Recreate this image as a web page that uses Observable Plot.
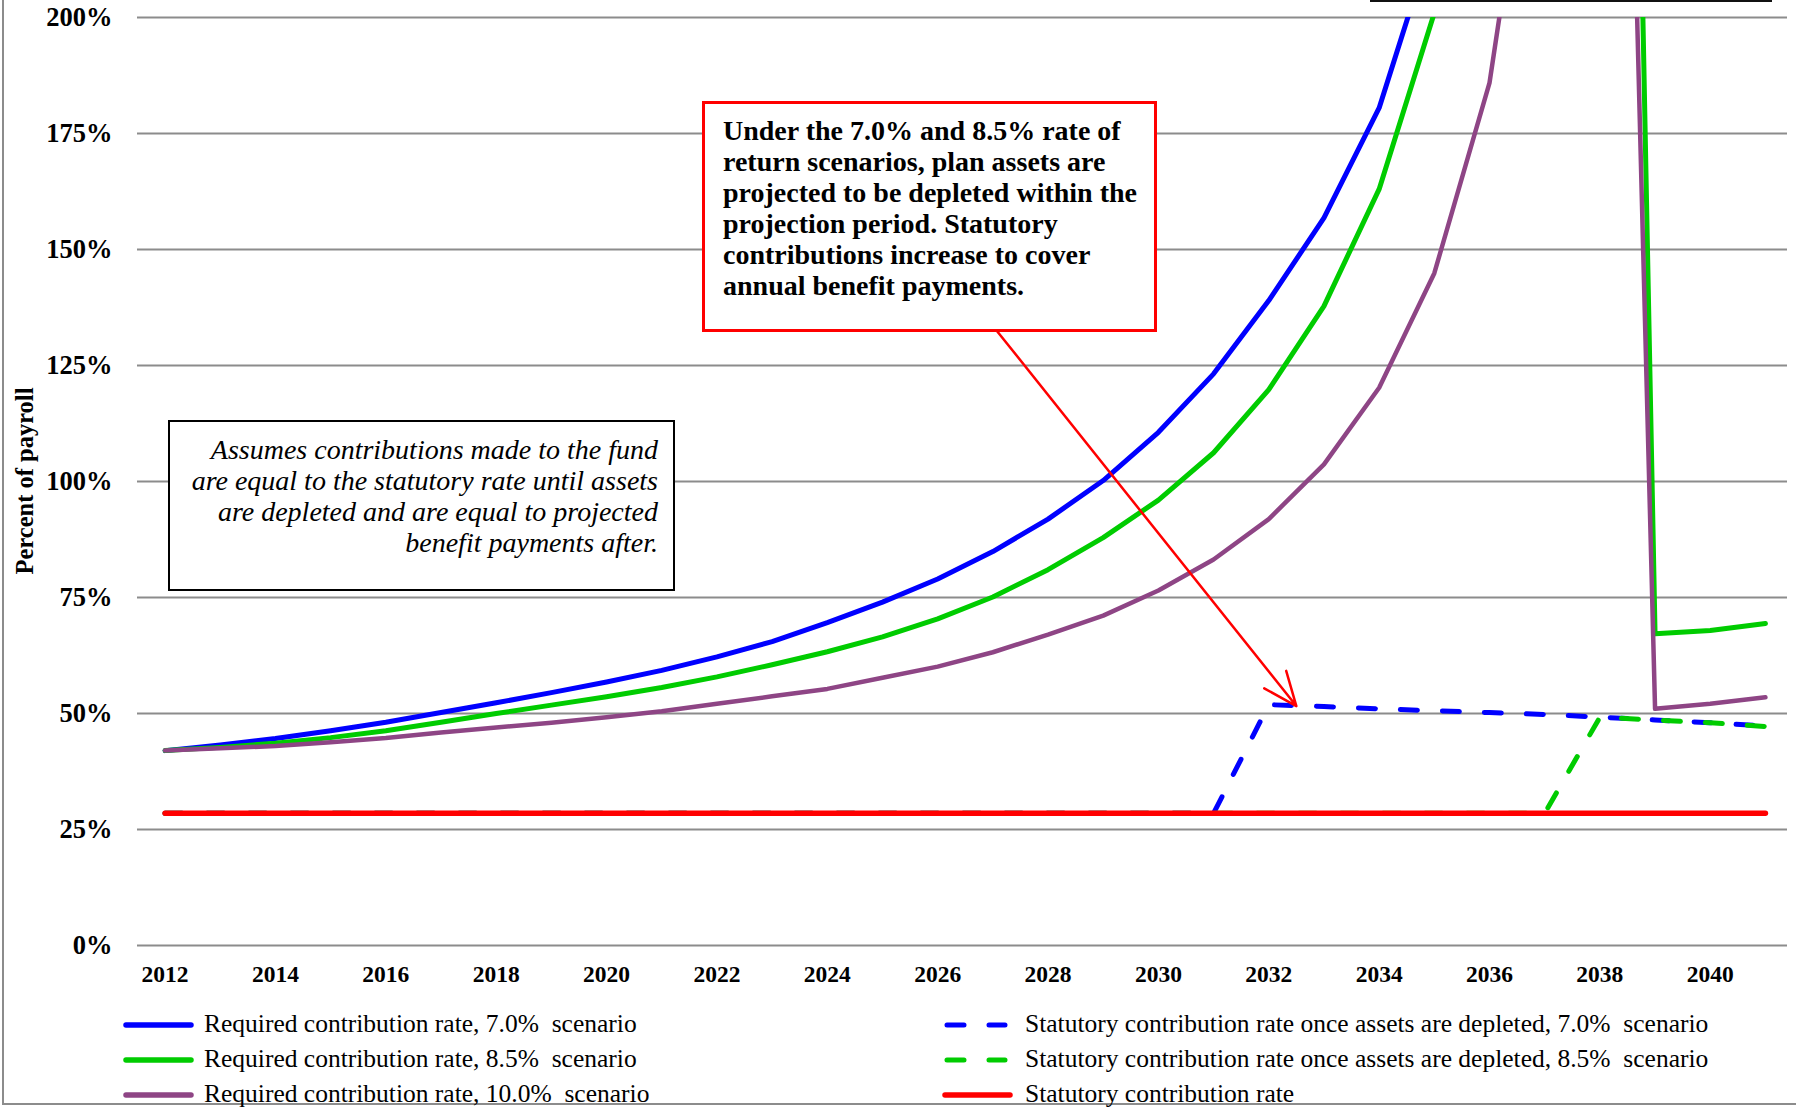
<!DOCTYPE html>
<html><head><meta charset="utf-8">
<script src="https://cdn.jsdelivr.net/npm/d3@7"></script>
<script src="https://cdn.jsdelivr.net/npm/@observablehq/plot@0.6"></script>
<style>
body{margin:0;background:#fff;}
#wrap{position:relative;width:1796px;height:1111px;overflow:hidden;font-family:"Liberation Serif","Times New Roman",serif;color:#000;background:#fff;}
#chart{position:absolute;left:0;top:0;}
.frame{position:absolute;left:2px;top:-5px;width:1900px;height:1110px;border-left:2.5px solid #8c8c8c;border-bottom:2.5px solid #8c8c8c;box-sizing:border-box;}
.topbox{position:absolute;left:1370px;top:-12px;width:402px;height:14px;border:2px solid #111;box-sizing:border-box;background:#fff;}
.ytitle{position:absolute;left:25px;top:481px;transform:translate(-50%,-50%) rotate(-90deg);font-weight:bold;font-size:24.5px;white-space:nowrap;}
.note1{position:absolute;left:168px;top:420px;width:507px;height:171px;border:2px solid #000;box-sizing:border-box;background:#fff;font-style:italic;font-size:28px;line-height:31px;text-align:right;padding:12px 15px 0 0;white-space:nowrap;}
.note2{position:absolute;left:702px;top:101px;width:455px;height:231px;border:3px solid #ff0000;box-sizing:border-box;background:#fff;font-weight:bold;font-size:28px;line-height:31px;text-align:left;padding:11px 0 0 18px;white-space:nowrap;}
.leg{position:absolute;font-size:25.5px;white-space:pre;line-height:28px;}
.sw{position:absolute;}
</style></head><body>
<div id="wrap">
<div id="chart"></div>
<div class="frame"></div>
<div class="topbox"></div>
<div class="ytitle">Percent of payroll</div>
<div id="legend"></div>
</div>
<script>
// ---- data ----
const years = [2012,2013,2014,2015,2016,2017,2018,2019,2020,2021,2022,2023,2024,2025,2026,2027,2028,2029,2030,2031,2032,2033,2034,2035,2036,2037,2038,2039,2040,2041];
const required70 = [42.0,43.2,44.6,46.3,48.1,50.2,52.3,54.5,56.8,59.3,62.2,65.5,69.6,74.0,79.0,84.9,91.9,100.2,110.6,123.2,139.0,156.8,180.5,218,260,310,370,430,500,580];
const required85 = [42.0,42.7,43.6,44.8,46.3,48.1,50.0,51.8,53.6,55.6,57.9,60.5,63.3,66.5,70.4,75.1,81.0,87.9,96.0,106.2,119.8,137.8,163.0,201,260,340,670,67.2,67.9,69.4];
const required100 = [42.0,42.5,43.0,43.8,44.7,45.9,47.0,48.0,49.2,50.5,52.1,53.7,55.3,57.7,60.1,63.2,67.0,71.1,76.5,83.2,91.9,103.7,120.2,144.9,185.9,265,510,51.0,52.1,53.5];
const depleted70 = [28.5,28.5,28.5,28.5,28.5,28.5,28.5,28.5,28.5,28.5,28.5,28.5,28.5,28.5,28.5,28.5,28.5,28.5,28.5,28.5,51.9,51.5,51.0,50.6,50.2,49.8,49.2,48.6,48.0,47.3];
const depleted85 = [28.5,28.5,28.5,28.5,28.5,28.5,28.5,28.5,28.5,28.5,28.5,28.5,28.5,28.5,28.5,28.5,28.5,28.5,28.5,28.5,28.5,28.5,28.5,28.5,28.5,28.5,49.2,48.6,48.0,47.2];
const statutory = [28.5,28.5,28.5,28.5,28.5,28.5,28.5,28.5,28.5,28.5,28.5,28.5,28.5,28.5,28.5,28.5,28.5,28.5,28.5,28.5,28.5,28.5,28.5,28.5,28.5,28.5,28.5,28.5,28.5,28.5];
const seriesNames = [
  "Required contribution rate, 7.0%  scenario",
  "Required contribution rate, 8.5%  scenario",
  "Required contribution rate, 10.0%  scenario",
  "Statutory contribution rate once assets are depleted, 7.0%  scenario",
  "Statutory contribution rate once assets are depleted, 8.5%  scenario",
  "Statutory contribution rate"
];
const yTicks = [0,25,50,75,100,125,150,175,200];
const xTicks = [2012,2014,2016,2018,2020,2022,2024,2026,2028,2030,2032,2034,2036,2038,2040];
const noteText1 = ["Assumes contributions made to the fund","are equal to the statutory rate until assets","are depleted and are equal to projected","benefit payments after."];
const noteText2 = ["Under the 7.0% and 8.5% rate of","return scenarios, plan assets are","projected to be depleted within the","projection period. Statutory","contributions increase to cover","annual benefit payments."];
const arrowPts = [{yearFrom:2027.07, valueFrom:132.5, yearTo:2032.5, valueTo:51.6}];

// ---- styles ----
const seriesValues = [required70, required85, required100, depleted70, depleted85, statutory];
const styles = [
  {stroke:"#0000ff", w:5, dash:null},
  {stroke:"#00cc00", w:5, dash:null},
  {stroke:"#8e4585", w:4.5, dash:null},
  {stroke:"#0000ff", w:5, dash:"17,25"},
  {stroke:"#00cc00", w:5, dash:"17,25"},
  {stroke:"#ff0000", w:5.5, dash:null}
];

const rows = [];
seriesNames.forEach((name, i) => years.forEach((yr, j) => rows.push({series:name, idx:i, year:yr, value:seriesValues[i][j]})));

const lineMarks = seriesNames.map((name, i) => Plot.line(rows.filter(r => r.idx === i), {
  x:"year", y:"value", stroke: styles[i].stroke, strokeWidth: styles[i].w,
  strokeDasharray: styles[i].dash || undefined, strokeLinecap:"round", strokeLinejoin:"round", clip:true
}));

const chart = Plot.plot({
  width:1796, height:1000,
  marginLeft:137, marginRight:9, marginTop:17, marginBottom:55,
  style:{fontFamily:"'Liberation Serif','Times New Roman',serif", color:"#000", background:"transparent"},
  x:{domain:[2011.5,2041.4]},
  y:{domain:[0,200]},
  marks:[
    Plot.gridY(yTicks, {stroke:"#8c8c8c", strokeOpacity:1, strokeWidth:2}),
    Plot.axisY(yTicks, {tickSize:0, tickPadding:25, tickFormat:d => d + "%", fontSize:26.5, fontWeight:"bold", label:null}),
    Plot.axisX(xTicks, {tickSize:0, tickPadding:20, tickFormat:d => String(d), fontSize:23.5, fontWeight:"bold", label:null}),
    ...lineMarks,
    Plot.arrow(arrowPts, {x1:"yearFrom", y1:"valueFrom", x2:"yearTo", y2:"valueTo", stroke:"#ff0000", strokeWidth:2.5, headLength:22, headAngle:45})
  ]
});
document.getElementById("chart").appendChild(chart);

// annotation boxes
const wrap = document.getElementById("wrap");
const n1 = document.createElement("div"); n1.className = "note1"; n1.innerHTML = noteText1.join("<br>"); wrap.appendChild(n1);
const n2 = document.createElement("div"); n2.className = "note2"; n2.innerHTML = noteText2.join("<br>"); wrap.appendChild(n2);

// legend
const leg = document.getElementById("legend");
const legPos = [
  {sx:126, tx:204, y:1025},{sx:126, tx:204, y:1060},{sx:126, tx:204, y:1095},
  {sx:945, tx:1025, y:1025},{sx:945, tx:1025, y:1060},{sx:945, tx:1025, y:1095}
];
seriesNames.forEach((name, i) => {
  const p = legPos[i], s = styles[i];
  const sw = document.createElementNS("http://www.w3.org/2000/svg","svg");
  sw.setAttribute("class","sw"); sw.setAttribute("width","76"); sw.setAttribute("height","12");
  sw.style.left = (p.sx - 3) + "px"; sw.style.top = (p.y - 6) + "px";
  const ln = document.createElementNS("http://www.w3.org/2000/svg","line");
  ln.setAttribute("x1", 3); ln.setAttribute("x2", 68); ln.setAttribute("y1", 6); ln.setAttribute("y2", 6);
  ln.setAttribute("stroke", s.stroke); ln.setAttribute("stroke-width", s.dash ? 5 : 5.5);
  ln.setAttribute("stroke-linecap","round");
  if (s.dash) { ln.setAttribute("stroke-dasharray","17,25"); ln.setAttribute("x1",5); ln.setAttribute("x2",63); }
  sw.appendChild(ln); leg.appendChild(sw);
  const t = document.createElement("div"); t.className = "leg"; t.textContent = name;
  t.style.left = p.tx + "px"; t.style.top = (p.y - 15) + "px";
  leg.appendChild(t);
});
</script>
</body></html>
